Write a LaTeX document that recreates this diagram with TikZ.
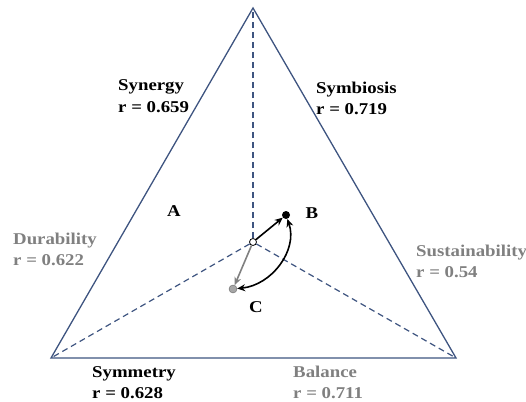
\documentclass[tikz,border=0pt]{standalone}
\usepackage{fontspec}
\setmainfont{Liberation Serif}[FakeStretch=1.14]
\usepackage{xcolor}
\definecolor{edgeblue}{RGB}{62,84,128}
\definecolor{dimgray}{RGB}{128,128,128}
\usepackage{tikz}
\usetikzlibrary{arrows.meta,positioning}

\begin{document}
\begin{tikzpicture}[x=1pt,y=-1pt,
    edge/.style={draw=edgeblue, line width=1.3pt},
    spoke/.style={draw=edgeblue, line width=1.2pt, dash pattern=on 6pt off 4pt},
    lbl/.style={anchor=base west, inner sep=0pt, align=left,
                font=\fontsize{16.5}{21}\selectfont\bfseries},
    dim/.style={lbl, text=dimgray},
    pt/.style={font=\fontsize{16.5}{21}\selectfont\bfseries, inner sep=0pt},
    arr/.style={-{Stealth[length=8pt,width=7pt]}, line width=1.6pt},
  ]
  \useasboundingbox (0,0) rectangle (526,401);

  %% triangle and spokes
  \coordinate (top) at (253,8);
  \coordinate (bl)  at (51,358);
  \coordinate (br)  at (456,358);
  \draw[edge] (top) -- (bl) -- (br) -- cycle;

  \node[circle, draw=black, line width=0.8pt, fill=white, inner sep=0pt, minimum size=7pt] (ctr) at (253,242) {};
  \draw[spoke] (ctr) -- (top);
  \draw[spoke] (ctr) -- (bl);
  \draw[spoke] (ctr) -- (br);

  %% corner labels (anchored at the second line)
  \node[lbl] (syn)  at (118,112) {Synergy\\r = 0.659};
  \node[lbl] (symb) at (316,114) {Symbiosis\\r = 0.719};
  \node[dim] (dur)  at (13,265)  {Durability\\r = 0.622};
  \node[dim] (sus)  at (416,277) {Sustainability\\r = 0.54};
  \node[lbl] (symm) at (92,398)  {Symmetry\\r = 0.628};
  \node[dim] (bal)  at (293,398) {Balance\\r = 0.711};

  %% points
  \node[circle, fill=black, inner sep=0pt, minimum size=8pt] (bdot) at (286,215) {};
  \node[circle, draw=dimgray!80!black, fill=dimgray!70, inner sep=0pt, minimum size=8pt] (cdot) at (233,289) {};
  \node[pt] (a) at (174,211) {A};
  \node[pt] (b) at (312,213) {B};
  \node[pt] (c) at (256,307) {C};

  \draw[arr] (ctr) -- (bdot);
  \draw[arr, dimgray] (ctr) -- (cdot);
  \draw[{Stealth[length=8pt,width=7pt]}-{Stealth[length=8pt,width=7pt]}, line width=1.6pt]
    (cdot) .. controls (272,285) and (298,250) .. (bdot);

\end{tikzpicture}
\end{document}
